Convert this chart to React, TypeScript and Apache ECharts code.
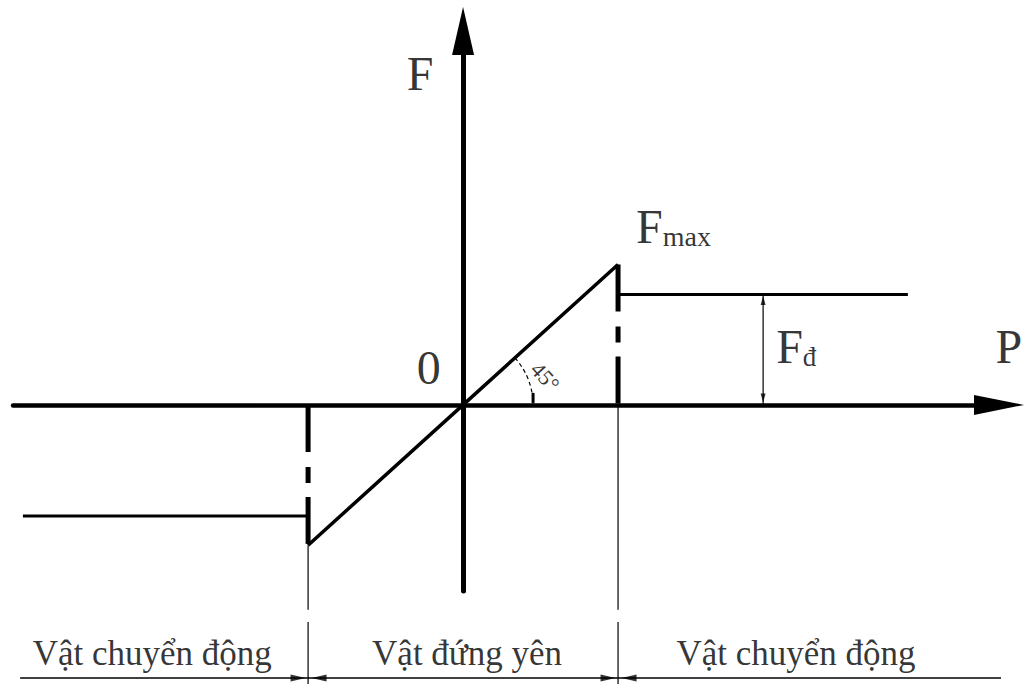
import { useEffect, useRef } from "react";
import * as echarts from "echarts";

// ---------- data (chart units) ----------
const pAxisRange = [-14.52, 17.29];
const fAxisRange = [-6.63, 13.32];

// static friction region (slope 1 -> 45°)
const staticP = [-5, 0, 5];
const staticF = [-5, 0, 5];
// kinetic friction branches
const kineticLeftP = [-14.2, -5];
const kineticLeftF = [-3.96, -3.96];
const kineticRightP = [5, 14.35];
const kineticRightF = [3.93, 3.93];
// break points and force levels
const breakP = [-5, 5];
const fMax = 5;
const fKinetic = 3.93;
// extension (guide) lines below the P axis
const guideGapF = [-7.3, -7.73];
const guideBottomF = -9.94;
// bottom dimension line
const dimLineF = -9.73;
const dimLineP = [-14.29, 17.71];
const regionLabels = ["Vật chuyển động", "Vật đứng yên", "Vật chuyển động"];
const regionLabelP = [-10.03, 0.13, 10.74];
const regionLabelF = -8.84;
// Fđ dimension
const fdDimP = 9.68;

// text anchors (chart units)
const axisFLabel = [-1.39, 11.79];
const originLabel = [-1.11, 1.35];
const axisPLabel = [17.61, 2.07];
const fMaxLabel = [5.58, 6.35];
const fdLabel = [10.1, 2.07];
const angleLabel = [2.65, 1.0];

const FONT = "'Liberation Serif', 'Times New Roman', serif";

const zip = (a: number[], b: number[]) => a.map((v, i) => [v, b[i]]);

function lineSeries(data: number[][], width: number, type: any = "solid") {
  return {
    type: "line",
    data,
    symbol: "none",
    silent: true,
    clip: false,
    animation: false,
    emphasis: { disabled: true },
    lineStyle: { color: "#000", width, type, cap: "butt" },
    z: 3,
  };
}

export default function App() {
  const ref = useRef<HTMLDivElement>(null);

  useEffect(() => {
    if (!ref.current) return;
    const chart = echarts.init(ref.current, undefined, { renderer: "svg" });

    const dash = [47, 15, 16, 14];

    const series: any[] = [
      lineSeries(zip(kineticLeftP, kineticLeftF), 3),
      lineSeries(zip(kineticRightP, kineticRightF), 3),
      lineSeries(zip(staticP, staticF), 3.5),
      lineSeries([[breakP[0], 0], [breakP[0], -fMax]], 5, dash),
      lineSeries([[breakP[1], fMax], [breakP[1], 0]], 5, dash),
      // guide lines
      lineSeries([[breakP[0], -fMax], [breakP[0], guideGapF[0]]], 1.2),
      lineSeries([[breakP[0], guideGapF[1]], [breakP[0], guideBottomF]], 1.2),
      lineSeries([[breakP[1], 0], [breakP[1], guideGapF[0]]], 1.2),
      lineSeries([[breakP[1], guideGapF[1]], [breakP[1], guideBottomF]], 1.2),
      // bottom dimension line
      lineSeries([[dimLineP[0], dimLineF], [dimLineP[1], dimLineF]], 1.5),
      // Fđ dimension line
      lineSeries([[fdDimP, fKinetic], [fdDimP, 0]], 1.2),
      // arrowheads
      {
        type: "scatter",
        silent: true,
        clip: false,
        animation: false,
        symbol: "triangle",
        itemStyle: { color: "#000" },
        emphasis: { disabled: true },
        z: 4,
        data: [
          { value: [breakP[0], dimLineF], symbolSize: [7, 15], symbolRotate: -90, symbolOffset: [-10, 0] },
          { value: [breakP[0], dimLineF], symbolSize: [7, 15], symbolRotate: 90, symbolOffset: [11, 0] },
          { value: [breakP[1], dimLineF], symbolSize: [7, 15], symbolRotate: -90, symbolOffset: [-10, 0] },
          { value: [breakP[1], dimLineF], symbolSize: [7, 15], symbolRotate: 90, symbolOffset: [11, 0] },
          { value: [fdDimP, fKinetic], symbolSize: [5, 9], symbolRotate: 0, symbolOffset: [0, 6] },
          { value: [fdDimP, 0], symbolSize: [5, 9], symbolRotate: 180, symbolOffset: [0, -7] },
        ],
      },
      // texts
      {
        type: "scatter",
        silent: true,
        clip: false,
        animation: false,
        symbolSize: 0,
        emphasis: { disabled: true },
        z: 5,
        label: {
          show: true,
          position: "inside",
          color: "#000",
          fontFamily: FONT,
        },
        data: [
          { value: axisFLabel, label: { formatter: "F", fontSize: 48 } },
          { value: originLabel, label: { formatter: "0", fontSize: 48 } },
          { value: axisPLabel, label: { formatter: "P", fontSize: 48 } },
          {
            value: fMaxLabel,
            label: {
              formatter: "{a|F}{b|max}",
              align: "left",
              rich: {
                a: { fontSize: 48, lineHeight: 48, fontFamily: FONT, color: "#000" },
                b: { fontSize: 28, lineHeight: 34, fontFamily: FONT, color: "#000", verticalAlign: "bottom" },
              },
            },
          },
          {
            value: fdLabel,
            label: {
              formatter: "{a|F}{b|đ}",
              align: "left",
              rich: {
                a: { fontSize: 48, lineHeight: 48, fontFamily: FONT, color: "#000" },
                b: { fontSize: 27, lineHeight: 33, fontFamily: FONT, color: "#000", verticalAlign: "bottom" },
              },
            },
          },
          { value: angleLabel, label: { formatter: "45°", fontSize: 22, rotate: -48 } },
          ...regionLabels.map((t, i) => ({
            value: [regionLabelP[i], regionLabelF],
            label: { formatter: t, fontSize: 35 },
          })),
        ],
      },
    ];

    chart.setOption({
      animation: false,
      backgroundColor: "#fff",
      grid: { left: 13, right: 27, top: 31, bottom: 93, containLabel: false },
      xAxis: {
        type: "value",
        min: pAxisRange[0],
        max: pAxisRange[1],
        axisLine: {
          onZero: true,
          symbol: ["none", "triangle"],
          symbolSize: [20, 50],
          lineStyle: { color: "#000", width: 4.5 },
        },
        axisTick: { show: false },
        axisLabel: { show: false },
        splitLine: { show: false },
      },
      yAxis: {
        type: "value",
        min: fAxisRange[0],
        max: fAxisRange[1],
        axisLine: {
          onZero: true,
          symbol: ["none", "triangle"],
          symbolSize: [22, 48],
          lineStyle: { color: "#000", width: 5 },
        },
        axisTick: { show: false },
        axisLabel: { show: false },
        splitLine: { show: false },
      },
      series,
    });

    // 45° angle arc
    const o = chart.convertToPixel({ gridIndex: 0 }, [0, 0]) as number[];
    const d = chart.convertToPixel({ gridIndex: 0 }, [staticP[2], staticF[2]]) as number[];
    const ang = Math.atan2(d[1] - o[1], d[0] - o[0]);
    const r = 70;
    chart.setOption({
      graphic: [
        {
          type: "arc",
          silent: true,
          shape: { cx: o[0], cy: o[1], r, startAngle: ang, endAngle: 0, clockwise: true },
          style: { stroke: "#000", lineWidth: 1.2, lineDash: [4, 3], fill: "none" },
          z: 10,
        },
        {
          type: "rect",
          silent: true,
          shape: { x: o[0] + r - 1.5, y: o[1] - 12, width: 3, height: 10 },
          style: { fill: "#000" },
          z: 10,
        },
      ],
    });

    return () => chart.dispose();
  }, []);

  return (
    <div
      ref={ref}
      style={{ position: "fixed", left: 0, top: 0, width: 1026, height: 684, background: "#fff" }}
    />
  );
}
